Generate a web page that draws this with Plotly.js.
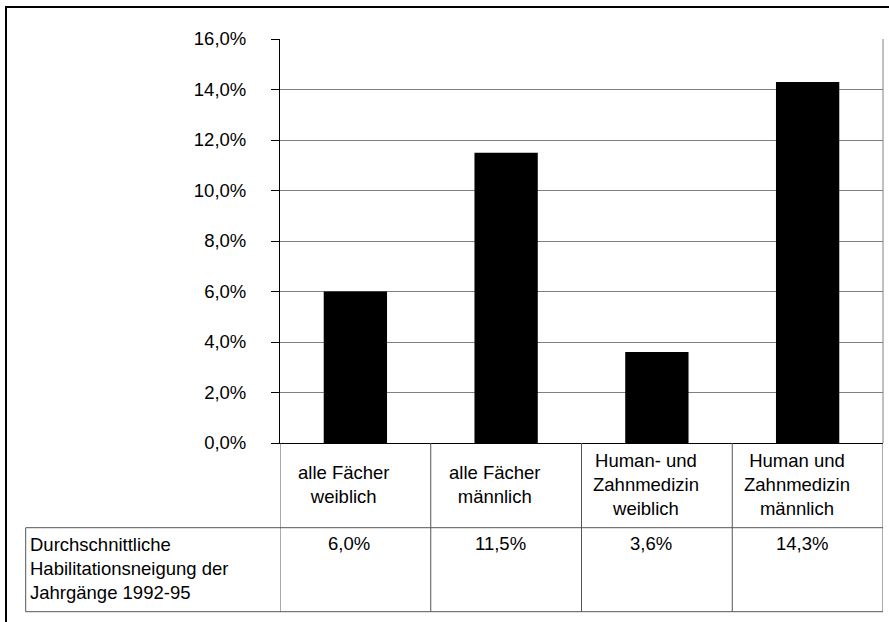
<!DOCTYPE html>
<html>
<head>
<meta charset="utf-8">
<script src="https://cdn.plot.ly/plotly-3.0.1.min.js"></script>
<style>
  html, body { margin: 0; padding: 0; background: #fff; }
  #chart { width: 889px; height: 622px; }
</style>
</head>
<body>
<div id="chart"></div>
<script>
// ---- data ----
const categories = [
  "alle Fächer<br>weiblich",
  "alle Fächer<br>männlich",
  "Human- und<br>Zahnmedizin<br>weiblich",
  "Human und<br>Zahnmedizin<br>männlich"
];
const values = [6.0, 11.5, 3.6, 14.3];
const rowLabel = "Durchschnittliche<br>Habilitationsneigung der<br>Jahrgänge 1992-95";
const yTicks = [0, 2, 4, 6, 8, 10, 12, 14, 16];
const yTickText = ["0,0%", "2,0%", "4,0%", "6,0%", "8,0%", "10,0%", "12,0%", "14,0%", "16,0%"];

// ---- geometry helpers (pixel -> paper) ----
const W = 889, H = 622;
const mL = 280, mR = 6, mT = 39, mB = 179;
const pw = W - mL - mR, ph = H - mT - mB;
const px = x => (x - mL) / pw;
const py = y => (H - mB - y) / ph;

const FONT = "Liberation Sans, Arial, Helvetica, sans-serif";
const FS = 18.5;
const lineCol = "#555555";

const xIdx = categories.map((_, i) => i);

const trace = {
  type: "bar",
  x: xIdx,
  y: values,
  marker: { color: "#000000", line: { width: 0 } },
  hoverinfo: "skip"
};

const rowTop = 527.7, rowBottom = 611.7;
const shapes = [];
// outer frame
shapes.push({ type: "rect", xref: "paper", yref: "paper",
  x0: px(6), x1: px(898), y0: py(632), y1: py(7),
  line: { color: "#000", width: 2 } });
// right border of plot area
shapes.push({ type: "line", xref: "paper", yref: "paper",
  x0: 1, x1: 1, y0: 0, y1: 1, line: { color: "#808080", width: 1 } });
// table vertical lines at category boundaries
for (let i = 0; i <= categories.length; i++) {
  shapes.push({ type: "line", xref: "x", yref: "paper",
    x0: i - 0.5, x1: i - 0.5, y0: py(rowBottom), y1: 0,
    line: { color: lineCol, width: 1 } });
}
// table horizontal lines
shapes.push({ type: "line", xref: "paper", yref: "paper",
  x0: px(25.7), x1: 1, y0: py(rowTop), y1: py(rowTop),
  line: { color: lineCol, width: 1 } });
shapes.push({ type: "line", xref: "paper", yref: "paper",
  x0: px(25.7), x1: 1, y0: py(rowBottom), y1: py(rowBottom),
  line: { color: lineCol, width: 1 } });
// left border of row label cell
shapes.push({ type: "line", xref: "paper", yref: "paper",
  x0: px(25.7), x1: px(25.7), y0: py(rowBottom), y1: py(rowTop),
  line: { color: lineCol, width: 1 } });

const annotations = [];
// category labels
categories.forEach((c, i) => {
  annotations.push({ xref: "x", yref: "paper", x: i, y: py(484),
    xanchor: "center", yanchor: "middle", align: "center",
    xshift: -11, showarrow: false, text: c,
    font: { family: FONT, size: FS, color: "#000" } });
});
// data row values
values.forEach((v, i) => {
  annotations.push({ xref: "x", yref: "paper", x: i, y: py(rowTop + 3),
    xanchor: "center", yanchor: "top", align: "center",
    xshift: -6, showarrow: false,
    text: v.toFixed(1).replace(".", ",") + "%",
    font: { family: FONT, size: FS, color: "#000" } });
});
// row label
annotations.push({ xref: "paper", yref: "paper", x: px(28), y: py(rowTop + 4),
  xanchor: "left", yanchor: "top", align: "left", showarrow: false,
  text: rowLabel, font: { family: FONT, size: FS, color: "#000" } });

const layout = {
  width: W, height: H,
  margin: { l: mL, r: mR, t: mT, b: mB, pad: 0 },
  paper_bgcolor: "#fff", plot_bgcolor: "#fff",
  separators: ",.",
  font: { family: FONT, size: FS, color: "#000" },
  showlegend: false,
  bargap: 0.58,
  xaxis: {
    type: "linear", range: [-0.5, categories.length - 0.5],
    showticklabels: false, ticks: "", showgrid: false, zeroline: false,
    showline: true, linecolor: "#000", linewidth: 1, fixedrange: true
  },
  yaxis: {
    range: [0, 16], tickmode: "array", tickvals: yTicks, ticktext: yTickText,
    showgrid: true, gridcolor: "#808080", gridwidth: 1,
    zeroline: true, zerolinecolor: "#000", zerolinewidth: 1,
    showline: true, linecolor: "#000", linewidth: 1,
    ticks: "outside", ticklen: 8, tickcolor: "#000", tickwidth: 1,
    ticklabelstandoff: 21,
    tickfont: { family: FONT, size: FS, color: "#000" }, fixedrange: true
  },
  shapes: shapes,
  annotations: annotations
};

Plotly.newPlot("chart", [trace], layout, { displayModeBar: false, staticPlot: true });
</script>
</body>
</html>
